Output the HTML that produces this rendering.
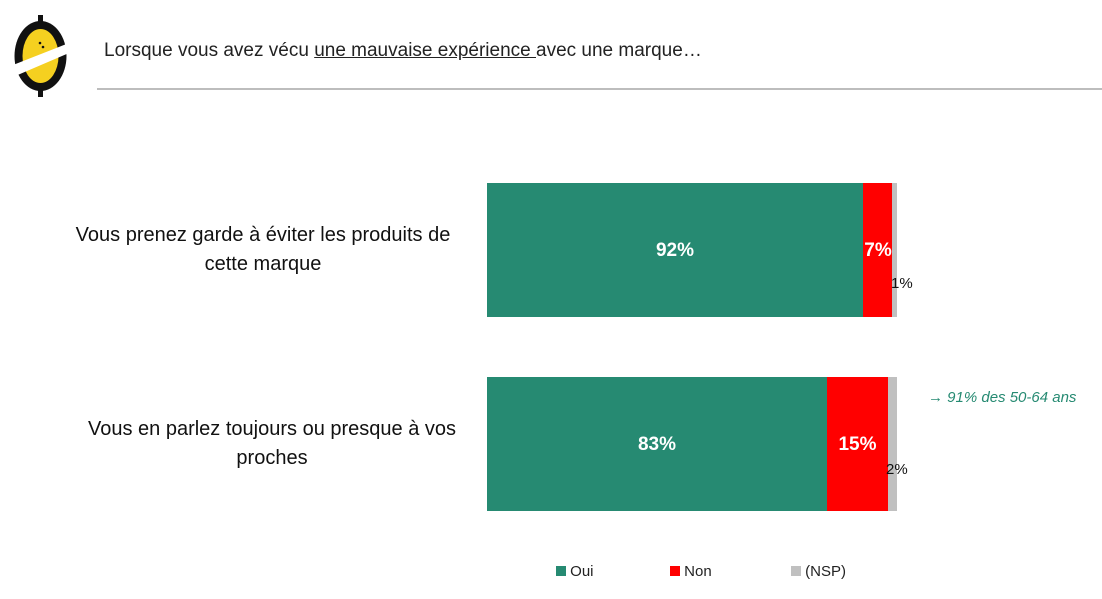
<!DOCTYPE html>
<html><head><meta charset="utf-8"><style>
body{margin:0;width:1102px;height:599px;background:#fff;position:relative;overflow:hidden;font-family:"Liberation Sans",sans-serif}
.a{position:absolute}
.t{font-size:19px;color:#222}
.lab{font-size:20px;color:#111;text-align:center;width:440px;line-height:29px}
.v{color:#fff;font-weight:bold;font-size:19px;text-align:center}
.sm{font-size:15px;color:#111}
.lg{font-size:15px;color:#222}
.sq{width:10px;height:10px;display:inline-block}
</style></head><body>
<svg class="a" style="left:13px;top:15px" width="56" height="82" viewBox="0 0 56 82">
<rect x="25" y="0" width="5" height="10" fill="#111"/><rect x="25" y="72" width="5" height="10" fill="#111"/>
<ellipse cx="27.5" cy="41" rx="26" ry="35" fill="#111"/>
<ellipse cx="27.5" cy="41" rx="18" ry="27" fill="#f5d020"/>
<polygon points="0,50 56,28 56,38 0,62" fill="#fff"/>
<circle cx="27" cy="28" r="1.3" fill="#111"/><circle cx="30" cy="32" r="1.3" fill="#111"/>
</svg>
<div class="a t" style="left:104px;top:40px">Lorsque vous avez vécu <u>une mauvaise expérience </u>avec une marque…</div>
<div class="a" style="left:97px;top:88px;width:1005px;height:2px;background:#bdbdbd"></div>

<div class="a lab" style="left:43px;top:221px">Vous prenez garde à éviter les produits de<br>cette marque</div>
<div class="a lab" style="left:52px;top:415px">Vous en parlez toujours ou presque à vos<br>proches</div>

<div class="a" style="left:487px;top:183px;width:376px;height:134px;background:#268a72"></div>
<div class="a" style="left:863px;top:183px;width:29px;height:134px;background:#ff0000"></div>
<div class="a" style="left:892px;top:183px;width:5px;height:134px;background:#c0c0c0"></div>
<div class="a v" style="left:487px;top:240px;width:376px">92%</div>
<div class="a v" style="left:860px;top:240px;width:36px">7%</div>
<div class="a sm" style="left:891px;top:275px">1%</div>

<div class="a" style="left:487px;top:377px;width:340px;height:134px;background:#268a72"></div>
<div class="a" style="left:827px;top:377px;width:61px;height:134px;background:#ff0000"></div>
<div class="a" style="left:888px;top:377px;width:9px;height:134px;background:#c0c0c0"></div>
<div class="a v" style="left:487px;top:434px;width:340px">83%</div>
<div class="a v" style="left:827px;top:434px;width:61px">15%</div>
<div class="a sm" style="left:886px;top:461px">2%</div>

<div class="a" style="left:928px;top:389px;font-size:15px;font-style:italic;color:#268a72"><span style="font-style:normal;font-weight:bold">→</span> 91% des 50-64 ans</div>

<div class="a lg" style="left:556px;top:563px"><span class="sq" style="background:#268a72"></span> Oui</div>
<div class="a lg" style="left:670px;top:563px"><span class="sq" style="background:#ff0000"></span> Non</div>
<div class="a lg" style="left:791px;top:563px"><span class="sq" style="background:#c0c0c0"></span> (NSP)</div>
</body></html>
